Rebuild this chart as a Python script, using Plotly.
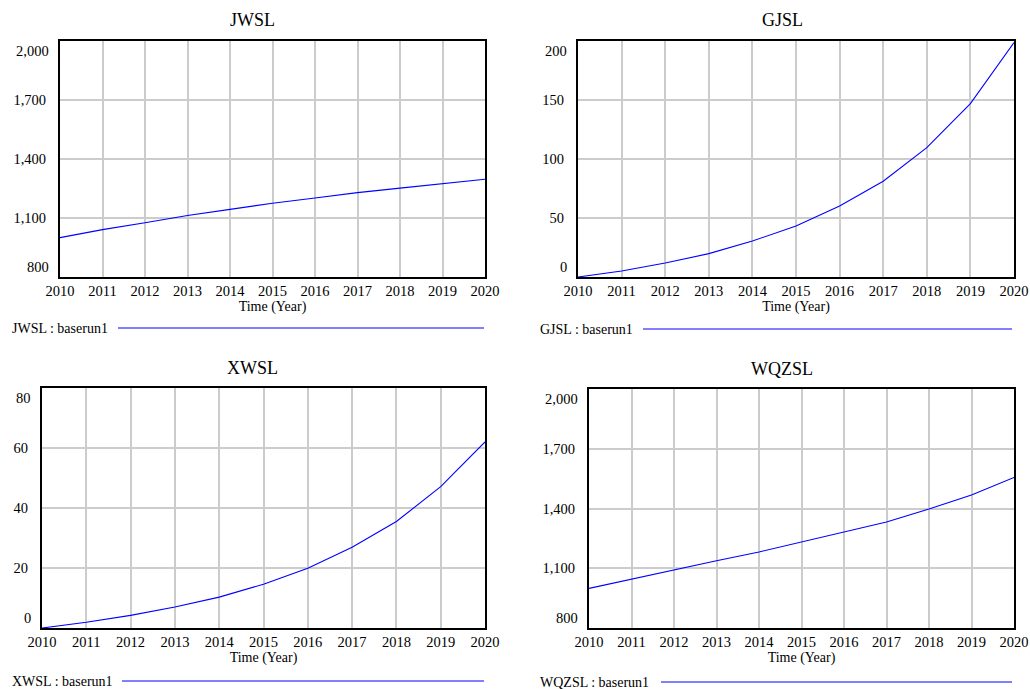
import plotly.graph_objects as go

# ---------------- data ----------------
years = list(range(2010, 2021))
jwsl = [1000, 1041, 1076, 1113, 1144, 1175, 1202, 1229, 1252, 1275, 1297]
gjsl = [0, 5.1, 11.9, 19.8, 30.5, 43.2, 60.2, 81.1, 109.6, 146.9, 198.6]
xwsl = [0, 1.9, 4.2, 7.0, 10.3, 14.6, 19.9, 26.9, 35.5, 47.1, 62.0]
wqzsl = [999, 1046, 1091, 1138, 1182, 1233, 1284, 1332, 1397, 1468, 1556]

names = ["JWSL", "GJSL", "XWSL", "WQZSL"]
series = [jwsl, gjsl, xwsl, wqzsl]
y_ticks = [
    [800, 1100, 1400, 1700, 2000],
    [0, 50, 100, 150, 200],
    [0, 20, 40, 60, 80],
    [800, 1100, 1400, 1700, 2000],
]
run_label = "baserun1"
x_title = "Time (Year)"

# ---------------- layout (pixels of the 1030x689 window) ----------------
W, H = 1030, 689
boxes = [(60, 485, 41, 277), (578, 1014, 41, 277), (42, 485, 388, 628), (589, 1014, 389, 628)]
title_pos = [(252, 20), (782, 20), (252, 368), (782, 369)]
legend_pos = [(10, 328, 118, 484), (538, 329, 643, 1012), (10, 681, 122, 484), (538, 682, 661, 1012)]

FONT = "Liberation Serif"
BLUE = "#0000ff"
TICK = 14.5

def px(x):
    return x / W

def py(y):
    return 1 - y / H

fig = go.Figure()
annotations = []
shapes = []
layout = dict(
    width=W, height=H, margin=dict(l=0, r=0, t=0, b=0),
    paper_bgcolor="white", plot_bgcolor="white",
    showlegend=False, font=dict(family=FONT, color="black", size=14),
)

for i, (name, vals, ticks) in enumerate(zip(names, series, y_ticks)):
    n = "" if i == 0 else str(i + 1)
    x0, x1, yt, yb = boxes[i]
    fig.add_trace(go.Scatter(
        x=years, y=vals, mode="lines", name=f"{name} : {run_label}",
        line=dict(color=BLUE, width=1.1), xaxis="x" + n, yaxis="y" + n,
    ))
    layout["xaxis" + n] = dict(
        domain=[px(x0), px(x1)], anchor="y" + n, range=[years[0], years[-1]],
        tickvals=years, showgrid=True, gridcolor="#cccccc", gridwidth=1.5,
        showline=True, linecolor="black", linewidth=2, mirror=True,
        ticks="", zeroline=False, tickfont=dict(size=TICK), automargin=False,
        title=dict(text=x_title, font=dict(size=14), standoff=0),
    )
    layout["yaxis" + n] = dict(
        domain=[py(yb), py(yt)], anchor="x" + n, range=[ticks[0], ticks[-1]],
        tickvals=ticks[1:-1], tickformat=",d", showgrid=True, gridcolor="#cccccc",
        gridwidth=1.5, showline=True, linecolor="black", linewidth=2, mirror=True,
        ticks="outside", ticklen=9, tickcolor="rgba(0,0,0,0)", zeroline=False,
        tickfont=dict(size=TICK), automargin=False,
    )
    # end labels of the value axis, set inside the frame as in the source
    for v, anchor in ((ticks[-1], "top"), (ticks[0], "bottom")):
        annotations.append(dict(
            xref=f"x{n} domain", yref="y" + n, x=0, y=v, xanchor="right", yanchor=anchor,
            text=f"{v:,d}", showarrow=False, xshift=-9, font=dict(size=TICK),
        ))
    tx, ty = title_pos[i]
    annotations.append(dict(
        xref="paper", yref="paper", x=px(tx), y=py(ty), xanchor="center", yanchor="middle",
        text=name, showarrow=False, font=dict(size=18),
    ))
    lx, ly, l0, l1 = legend_pos[i]
    annotations.append(dict(
        xref="paper", yref="paper", x=px(lx), y=py(ly), xanchor="left", yanchor="middle",
        text=f"{name} : {run_label}", showarrow=False, font=dict(size=14),
    ))
    shapes.append(dict(
        type="line", xref="paper", yref="paper", x0=px(l0), x1=px(l1), y0=py(ly), y1=py(ly),
        line=dict(color=BLUE, width=1),
    ))

layout["annotations"] = annotations
layout["shapes"] = shapes
fig.update_layout(**layout)
fig.write_html(
    "out.html",
    config={"displayModeBar": False},
    post_script="document.body.style.margin='0';document.body.style.overflow='hidden';",
)
